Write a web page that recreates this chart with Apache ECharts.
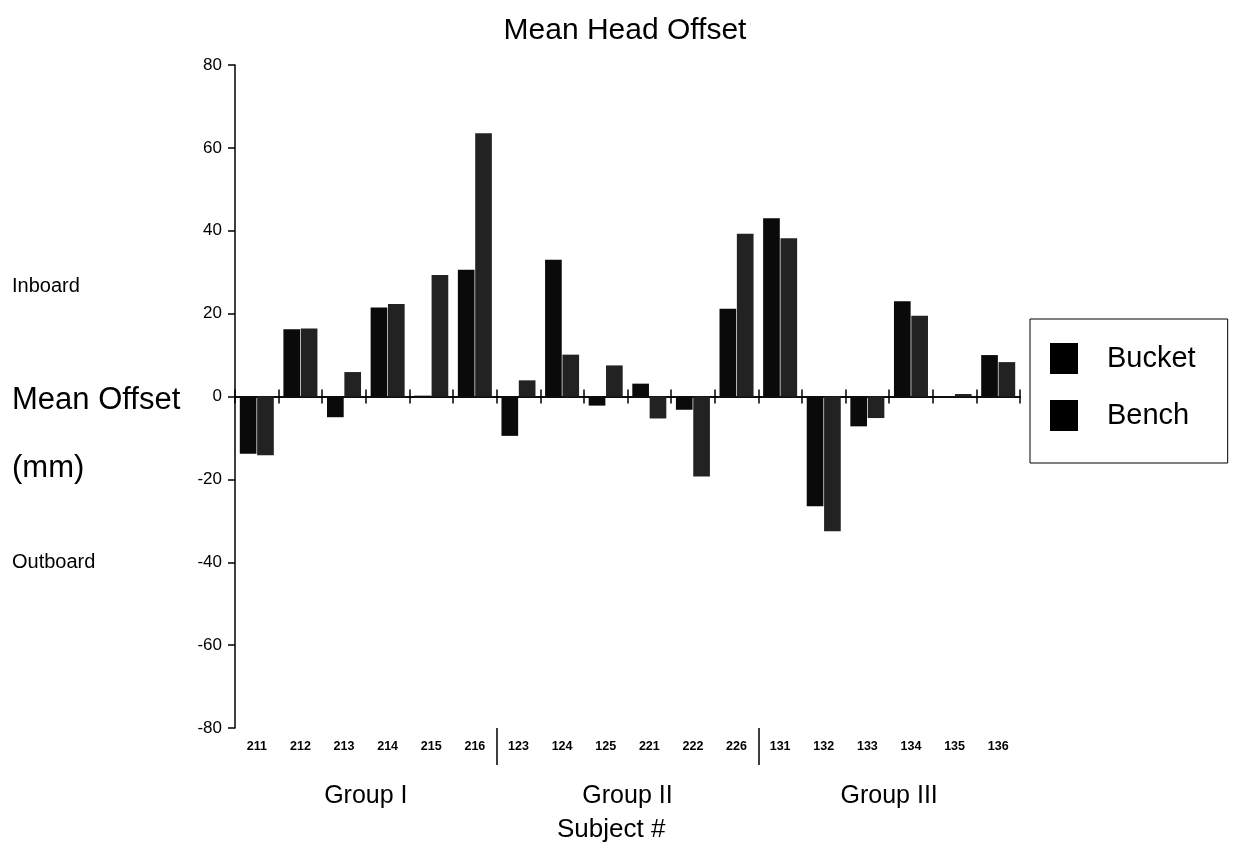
<!DOCTYPE html>
<html>
<head>
<meta charset="utf-8">
<script src="https://cdn.jsdelivr.net/npm/echarts@6/dist/echarts.min.js"></script>
<style>
  html, body { margin: 0; padding: 0; background: #fff; }
  #chart { width: 1233px; height: 853px; }
</style>
</head>
<body>
<div id="chart"></div>
<script>
// subjects along the x axis, three groups of six
const subjects = ['211', '212', '213', '214', '215', '216',
  '123', '124', '125', '221', '222', '226',
  '131', '132', '133', '134', '135', '136']
const groups = ['Group I', 'Group II', 'Group III']
const groupBreaks = [6, 12]
const bucket = [-13.8, 16.2, -5, 21.5, 0.2, 30.6,
  -9.5, 33, -2.2, 3.1, -3.2, 21.2,
  43, -26.5, -7.2, 23, 0, 10]
const bench = [-14.2, 16.4, 5.9, 22.3, 29.3, 63.5,
  3.9, 10.1, 7.5, -5.3, -19.3, 39.3,
  38.2, -32.5, -5.2, 19.5, 0.6, 8.3]
const yTicks = { min: -80, max: 80, step: 20 }

const FONT = 'Liberation Sans'
const myChart = echarts.init(document.getElementById('chart'))

// the zero line with ticks crossing it: one axis ticks down, one ticks up
const zeroAxis = (pos, yIdx) => ({
  type: 'category',
  data: subjects,
  position: pos,
  axisLine: { show: true, onZero: true, onZeroAxisIndex: yIdx, lineStyle: { color: '#000', width: 1.5 } },
  axisTick: { show: true, interval: 0, length: 7, lineStyle: { color: '#000', width: 1.5 } },
  axisLabel: { show: false },
  splitLine: { show: false }
})

const option = {
  backgroundColor: '#fff',
  animation: false,
  title: {
    text: 'Mean Head Offset',
    left: 620,
    textAlign: 'center',
    top: 11,
    textStyle: { fontFamily: FONT, fontSize: 30, fontWeight: 'normal', color: '#000' }
  },
  legend: {
    orient: 'vertical',
    left: 1030,
    top: 319,
    padding: [24, 32, 32, 20],
    itemWidth: 28,
    itemHeight: 31,
    itemGap: 26,
    itemStyle: { color: '#000' },
    icon: 'rect',
    borderColor: '#000',
    borderWidth: 1,
    textStyle: { fontFamily: FONT, fontSize: 29, color: '#000', padding: [0, 0, 0, 24] },
    data: ['Bucket', 'Bench']
  },
  grid: { left: 235, right: 213, top: 65, bottom: 125 },
  xAxis: [
    {
      type: 'category',
      data: subjects,
      position: 'bottom',
      axisLine: { show: false, onZero: false },
      axisTick: { show: false },
      axisLabel: { interval: 0, margin: 12, fontFamily: FONT, fontSize: 12.5, fontWeight: 'bold', color: '#000' },
      splitLine: { show: false }
    },
    zeroAxis('bottom', 0),
    zeroAxis('top', 1),
    {
      type: 'category',
      data: groups,
      position: 'bottom',
      axisLine: { show: false, onZero: false },
      axisTick: { show: false },
      axisLabel: { margin: 56, fontFamily: FONT, fontSize: 25, color: '#000' },
      splitLine: { show: false }
    },
    {
      // group separators under the subject labels
      type: 'value',
      min: 0,
      max: subjects.length,
      position: 'bottom',
      axisLine: { show: false, onZero: false },
      axisTick: { show: true, customValues: groupBreaks, length: 37, lineStyle: { color: '#000', width: 1.5 } },
      axisLabel: { show: false },
      splitLine: { show: false }
    }
  ],
  yAxis: [
    {
      type: 'value',
      min: yTicks.min,
      max: yTicks.max,
      interval: yTicks.step,
      axisLine: { show: true, onZero: false, lineStyle: { color: '#000', width: 1.5 } },
      axisTick: { show: true, length: 7, lineStyle: { color: '#000', width: 1.5 } },
      axisLabel: { margin: 13, fontFamily: FONT, fontSize: 17, color: '#000' },
      splitLine: { show: false }
    },
    {
      type: 'value',
      min: yTicks.min,
      max: yTicks.max,
      interval: yTicks.step,
      position: 'left',
      axisLine: { show: false, onZero: false },
      axisTick: { show: false },
      axisLabel: { show: false },
      splitLine: { show: false }
    }
  ],
  series: [
    {
      name: 'Bucket',
      type: 'bar',
      data: bucket,
      barGap: '4%',
      barCategoryGap: '22%',
      itemStyle: { color: '#0a0a0a' }
    },
    {
      name: 'Bench',
      type: 'bar',
      data: bench,
      itemStyle: { color: '#222' }
    }
  ],
  graphic: [
    { type: 'text', left: 12, top: 276, style: { text: 'Inboard', font: '20px "Liberation Sans"', fill: '#000' } },
    { type: 'text', left: 12, top: 385, style: { text: 'Mean Offset', font: '31px "Liberation Sans"', fill: '#000' } },
    { type: 'text', left: 12, top: 453, style: { text: '(mm)', font: '31px "Liberation Sans"', fill: '#000' } },
    { type: 'text', left: 12, top: 552, style: { text: 'Outboard', font: '20px "Liberation Sans"', fill: '#000' } },
    { type: 'text', left: 557, top: 817, style: { text: 'Subject #', font: '26px "Liberation Sans"', fill: '#000' } }
  ]
}

myChart.setOption(option)
</script>
</body>
</html>
